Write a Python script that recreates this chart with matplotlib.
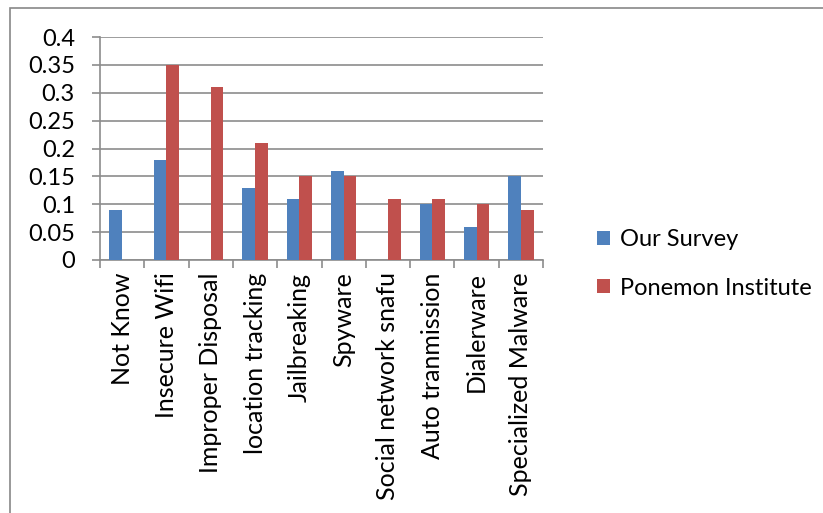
import matplotlib
matplotlib.use('Agg')
import matplotlib.pyplot as plt
import matplotlib.patches as patches
import numpy as np

# 数据
categories = ['Not Know', 'Insecure Wifi', 'Improper Disposal', 'location tracking',
              'Jailbreaking', 'Spyware', 'Social network snafu', 'Auto tranmission',
              'Dialerware', 'Specialized Malware']
our_survey = [0.09, 0.18, 0, 0.13, 0.11, 0.16, 0, 0.10, 0.06, 0.15]
ponemon = [0, 0.35, 0.31, 0.21, 0.15, 0.15, 0.11, 0.11, 0.10, 0.09]
series_names = ['Our Survey', 'Ponemon Institute']
y_ticks = [0, 0.05, 0.1, 0.15, 0.2, 0.25, 0.3, 0.35, 0.4]
y_tick_labels = ['0', '0.05', '0.1', '0.15', '0.2', '0.25', '0.3', '0.35', '0.4']

plt.rcParams['font.family'] = ['Lato', 'DejaVu Sans']

W, H = 823, 513
fig = plt.figure(figsize=(W / 100, H / 100), dpi=100)

# 外框（只显示左边和上边）
border = patches.Rectangle((10 / W, -0.1), 1.2, 1.1 - 8 / H, transform=fig.transFigure,
                           fill=False, edgecolor='#888888', linewidth=1.2)
fig.patches.append(border)

ax = fig.add_axes([100 / W, (H - 260) / H, 443 / W, 223 / H])

x = np.arange(len(categories))
bw = 1 / 3.5
blue = '#4F81BD'
red = '#C0504D'
ax.bar(x - bw / 2, our_survey, width=bw, color=blue, label=series_names[0], zorder=3)
ax.bar(x + bw / 2, ponemon, width=bw, color=red, label=series_names[1], zorder=3)

ax.set_xlim(-0.5, len(categories) - 0.5)
ax.set_ylim(0, 0.4)
ax.set_yticks(y_ticks)
ax.set_yticklabels(y_tick_labels, fontsize=17)
ax.yaxis.grid(True, color='#8c8c8c', linewidth=1.2, zorder=0)
ax.tick_params(axis='y', length=6, width=1.2, color='#8c8c8c', pad=12)

ax.set_xticks(x)
ax.set_xticklabels(categories, rotation=90, fontsize=18)
ax.set_xticks(np.arange(len(categories) + 1) - 0.5, minor=True)
ax.tick_params(axis='x', which='major', length=0, pad=9)
ax.tick_params(axis='x', which='minor', length=6, width=1.2, color='#8c8c8c')

for s in ['top', 'right']:
    ax.spines[s].set_visible(False)
for s in ['left', 'bottom']:
    ax.spines[s].set_color('#8c8c8c')
    ax.spines[s].set_linewidth(1.2)

leg = fig.legend(loc='center left', bbox_to_anchor=(576 / W, 1 - 264 / H), frameon=False,
                 fontsize=17, handlelength=0.55, handleheight=0.55, handletextpad=0.4,
                 labelspacing=1.15)

fig.savefig('out.png', dpi=100)
